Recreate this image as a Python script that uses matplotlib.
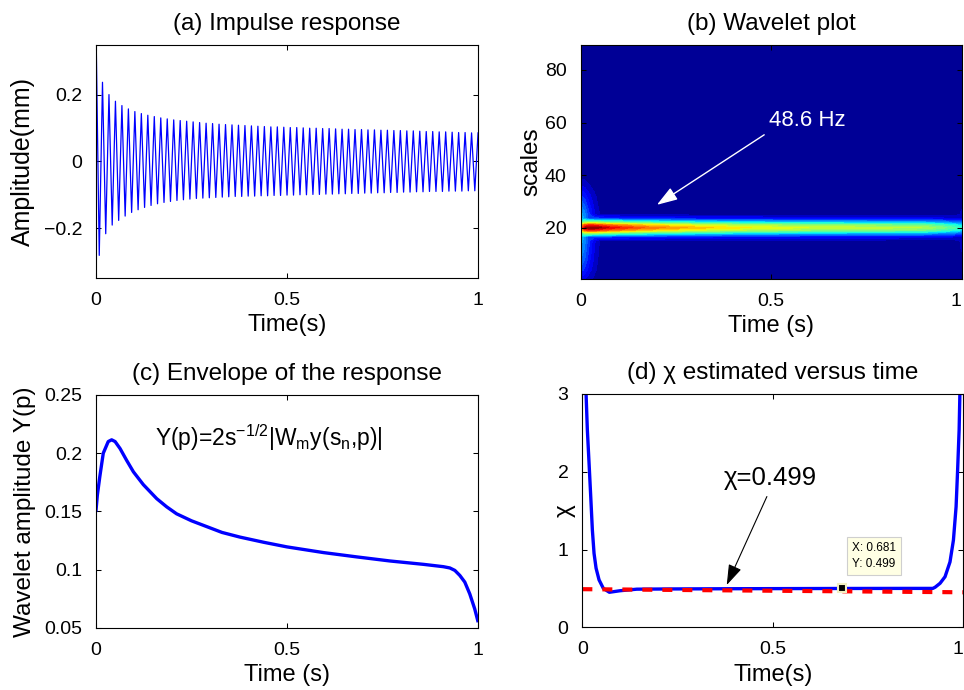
import numpy as np
import matplotlib
matplotlib.use("Agg")
import matplotlib.pyplot as plt
import matplotlib.transforms as mtransforms

plt.rcParams['font.family'] = ['Liberation Sans', 'DejaVu Sans']
plt.rcParams['mathtext.fontset'] = 'custom'
plt.rcParams['mathtext.rm'] = 'Liberation Sans'
plt.rcParams['mathtext.it'] = 'Liberation Sans'
plt.rcParams['mathtext.default'] = 'regular'

# -----------------------------
# data
# -----------------------------
# (a) impulse response: value of each crest / trough, one per half cycle
freq_a = 59.0
upper_peaks = [0.40, 0.238, 0.201, 0.181, 0.168, 0.158, 0.150, 0.144, 0.139, 0.135,
               0.131, 0.128, 0.125, 0.123, 0.121, 0.119, 0.117, 0.115, 0.114, 0.112,
               0.111, 0.110, 0.109, 0.108, 0.107, 0.106, 0.105, 0.104, 0.104, 0.103,
               0.102, 0.102, 0.101, 0.100, 0.100, 0.099, 0.099, 0.098, 0.097, 0.097,
               0.096, 0.096, 0.095, 0.095, 0.094, 0.094, 0.093, 0.093, 0.092, 0.092,
               0.091, 0.090, 0.090, 0.089, 0.089, 0.088, 0.087, 0.087, 0.086, 0.086]
lower_peaks = [-0.282, -0.217, -0.191, -0.177, -0.164, -0.153, -0.145, -0.138, -0.132, -0.127,
               -0.123, -0.120, -0.117, -0.115, -0.113, -0.111, -0.110, -0.109, -0.108, -0.107,
               -0.106, -0.105, -0.105, -0.104, -0.104, -0.103, -0.103, -0.102, -0.102, -0.101,
               -0.101, -0.100, -0.100, -0.099, -0.099, -0.098, -0.098, -0.097, -0.097, -0.096,
               -0.096, -0.095, -0.095, -0.094, -0.094, -0.093, -0.093, -0.092, -0.092, -0.091,
               -0.091, -0.090, -0.090, -0.090, -0.089, -0.089, -0.089, -0.088, -0.088]

# (b) wavelet map: ridge at scale 20, plus the spread near t=0 and t=1
wav_t = [0, 0.01, 0.02, 0.035, 0.05, 0.08, 0.12, 0.17, 0.25, 0.35, 0.45, 0.6, 0.75, 0.9, 0.95, 0.98, 1.0]
ridge_amp = [0.75, 0.95, 1.0, 1.0, 0.97, 0.91, 0.86, 0.8, 0.74, 0.68, 0.64, 0.6, 0.58, 0.56, 0.5, 0.45, 0.4]
spread_amp = [1.0, 0.85, 0.6, 0.3, 0.1, 0, 0, 0, 0, 0, 0, 0, 0, 0, 0, 0.08, 0.15]
wav_scales = [0.5, 4, 8, 12, 15, 16.5, 18, 19, 20, 21, 22, 23.5, 25, 28, 32, 36, 40, 89.5]
ridge_profile = [0, 0, 0, 0, 0.04, 0.18, 0.55, 0.85, 1.0, 0.85, 0.55, 0.18, 0.04, 0, 0, 0, 0, 0]
spread_profile = [0.1, 0.18, 0.24, 0.28, 0.3, 0.32, 0.34, 0.35, 0.35, 0.35, 0.34, 0.32, 0.3, 0.25, 0.17, 0.08, 0.02, 0]

# (c) envelope
env_t = [0, 0.0035, 0.010, 0.019, 0.032, 0.041, 0.050, 0.063, 0.080, 0.098, 0.124, 0.159,
         0.185, 0.211, 0.25, 0.290, 0.33, 0.377, 0.44, 0.5, 0.596, 0.683, 0.770, 0.858, 0.910,
         0.927, 0.940, 0.953, 0.966, 0.979, 0.992, 1.0]
env_y = [0.151, 0.164, 0.180, 0.200, 0.210, 0.2115, 0.210, 0.204, 0.194, 0.184, 0.173, 0.161,
         0.154, 0.148, 0.142, 0.137, 0.132, 0.128, 0.1235, 0.1196, 0.1147, 0.111, 0.1075, 0.1046,
         0.1026, 0.1015, 0.0994, 0.0951, 0.0894, 0.0793, 0.0664, 0.0563]

# (d) chi versus time
chi_t = [0.007, 0.0097, 0.0131, 0.0176, 0.022, 0.0263, 0.0307, 0.036, 0.0438, 0.0551, 0.0709,
         0.099, 0.143, 0.23, 0.4, 0.681, 0.85, 0.92, 0.926, 0.939, 0.952, 0.965, 0.974,
         0.981, 0.985, 0.989, 0.991, 0.994]
chi_y = [3.4, 3.01, 2.54, 2.11, 1.68, 1.25, 0.95, 0.76, 0.61, 0.50, 0.45,
         0.47, 0.49, 0.493, 0.496, 0.499, 0.50, 0.50, 0.515, 0.566, 0.65, 0.84, 1.12,
         1.55, 2.02, 2.54, 3.01, 3.4]
fit_t = [0, 1]
fit_y = [0.49, 0.45]
tip_x, tip_y = 0.681, 0.499

# -----------------------------
# figure
# -----------------------------
fig = plt.figure(figsize=(9.64, 6.9), dpi=100)
ax_a = fig.add_axes([0.0996, 0.5971, 0.3963, 0.3377])
ax_b = fig.add_axes([0.6024, 0.5957, 0.3952, 0.3391])
ax_c = fig.add_axes([0.0996, 0.0899, 0.3960, 0.3377])
ax_d = fig.add_axes([0.6041, 0.0909, 0.3952, 0.3381])


def style(ax):
    ax.tick_params(direction='in', top=True, right=True, length=3.5, width=0.75,
                   labelsize=14, pad=10)
    for s in ax.spines.values():
        s.set_linewidth(0.8)
    ax.set_xlim(0, 1)
    ax.set_xticks([0, 0.5, 1])
    ax.set_xticklabels(['0', '0.5', '1'])


def nudge_last_xlabel(ax):
    # the right panels touch the figure edge; pull the "1" in a little
    lab = ax.get_xticklabels()[-1]
    lab.set_transform(lab.get_transform() +
                      mtransforms.ScaledTranslation(-4 / 72, 0, fig.dpi_scale_trans))


# (a)
half = 0.5 / freq_a
sig = []
for k in range(len(lower_peaks)):
    sig += [upper_peaks[k], lower_peaks[k]]
sig.append(upper_peaks[-1])
t_a = np.arange(len(sig)) * half
ax_a.plot(t_a, sig, color='b', lw=0.9)
style(ax_a)
ax_a.set_ylim(-0.35, 0.35)
ax_a.set_yticks([-0.2, 0, 0.2])
ax_a.set_yticklabels(['\u22120.2', '0', '0.2'])
ax_a.set_title('(a) Impulse response', fontsize=17.5, pad=11)
ax_a.set_xlabel('Time(s)', fontsize=17, labelpad=4)
ax_a.set_ylabel('Amplitude(mm)', fontsize=18, labelpad=6)

# (b)
z = np.maximum(np.outer(ridge_profile, ridge_amp), np.outer(spread_profile, spread_amp))
ax_b.contourf(wav_t, wav_scales, z, levels=np.linspace(0, 1.001, 26), cmap='jet', vmin=0, vmax=1)
style(ax_b)
nudge_last_xlabel(ax_b)
ax_b.set_ylim(0.5, 89.5)
ax_b.set_yticks([20, 40, 60, 80])
ax_b.annotate('48.6 Hz', xy=(0.2, 28.7), xytext=(0.495, 60.6), color='white', fontsize=16,
              ha='left', va='center',
              arrowprops=dict(arrowstyle='-|>,head_length=0.9,head_width=0.3', color='white',
                              lw=1, relpos=(0, 0), shrinkA=2, shrinkB=0, mutation_scale=14))
ax_b.set_title('(b) Wavelet plot', fontsize=17.5, pad=11)
ax_b.set_xlabel('Time (s)', fontsize=17, labelpad=4)
ax_b.set_ylabel('scales', fontsize=17.5, labelpad=2)

# (c)
ax_c.plot(env_t, env_y, color='b', lw=2.4)
style(ax_c)
ax_c.set_ylim(0.05, 0.25)
ax_c.set_yticks([0.05, 0.1, 0.15, 0.2, 0.25])
ax_c.set_yticklabels(['0.05', '0.1', '0.15', '0.2', '0.25'])
ax_c.text(0.155, 0.2135, r'Y(p)=2s$^{-1/2}$|W$_{m}$y(s$_{n}$,p)|', fontsize=16.5,
          ha='left', va='center')
ax_c.set_title('(c) Envelope of the response', fontsize=17.5, pad=11)
ax_c.set_xlabel('Time (s)', fontsize=17, labelpad=4)
ax_c.set_ylabel('Wavelet amplitude Y(p)', fontsize=17.5, labelpad=6)

# (d)
ax_d.plot(chi_t, chi_y, color='b', lw=2.4)
ax_d.plot(fit_t, fit_y, color='r', lw=3, dashes=(2.4, 2.4), clip_on=False)
ax_d.plot([tip_x], [tip_y], marker='s', ms=6, mfc='k', mec='#f3efc0', mew=1.5, zorder=5)
style(ax_d)
nudge_last_xlabel(ax_d)
ax_d.set_ylim(0, 3)
ax_d.set_yticks([0, 1, 2, 3])
ax_d.text(tip_x + 0.027, 0.92, 'X: %.3f\nY: %.3f' % (tip_x, tip_y), fontsize=8.5,
          ha='left', va='center', linespacing=1.4, zorder=6,
          bbox=dict(boxstyle='square,pad=0.45', fc='#ffffe4', ec='#cfcfcf', lw=0.8))
ax_d.annotate('\u03c7=0.499', xy=(0.379, 0.544), xytext=(0.37, 1.92), fontsize=18.5,
              ha='left', va='center',
              arrowprops=dict(arrowstyle='-|>,head_length=0.9,head_width=0.3', color='k',
                              lw=0.8, relpos=(0.5, 0), shrinkA=3, shrinkB=0, mutation_scale=14))
ax_d.set_title('(d) \u03c7 estimated versus time', fontsize=17.5, pad=11)
ax_d.set_xlabel('Time(s)', fontsize=17, labelpad=4)
ax_d.set_ylabel('\u03c7', fontsize=17.5, labelpad=-13)

fig.savefig('out.png', dpi=100)
